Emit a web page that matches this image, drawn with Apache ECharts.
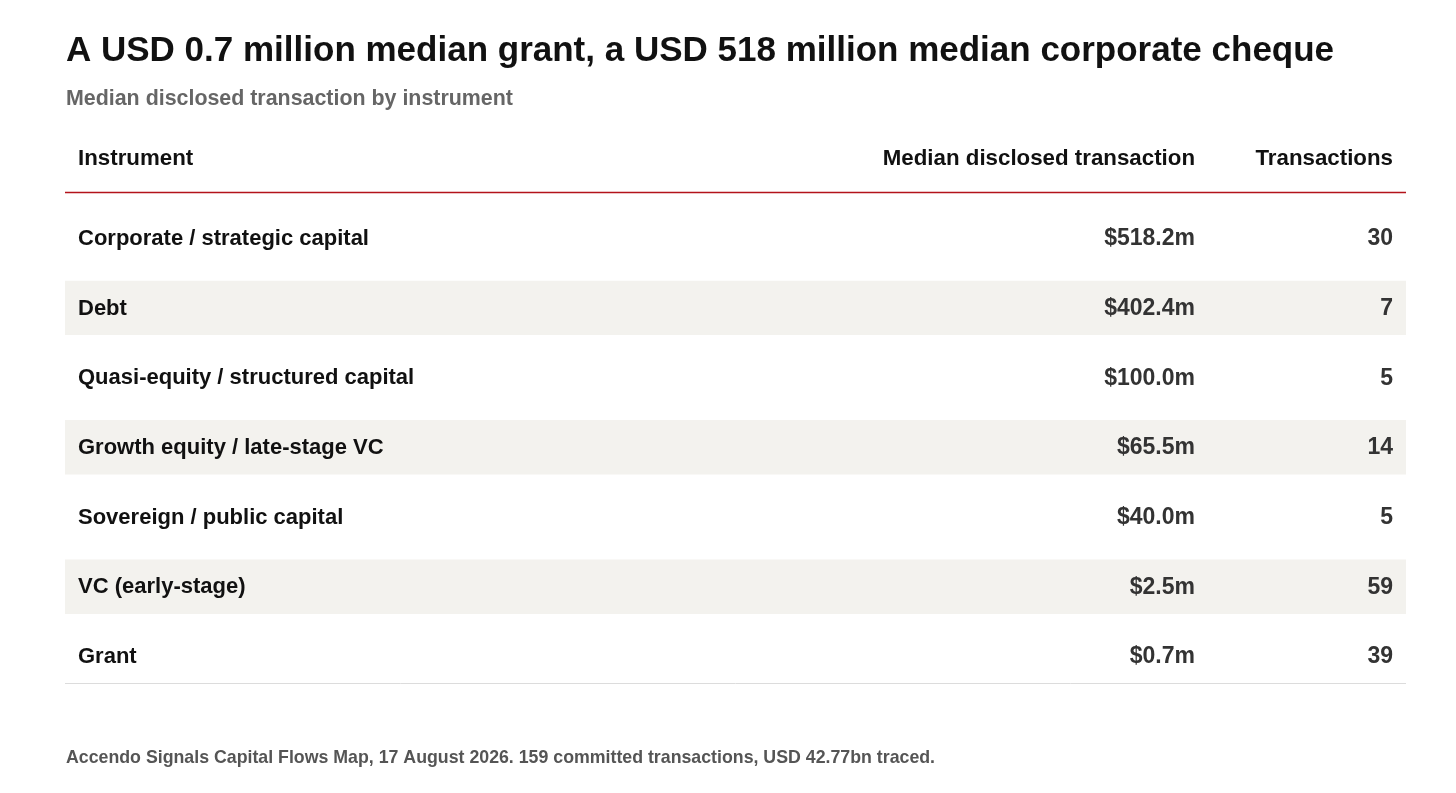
<!DOCTYPE html>
<html>
<head>
<meta charset="utf-8">
<script src="https://cdn.jsdelivr.net/npm/echarts@6/dist/echarts.min.js"></script>
<style>
html, body { margin: 0; padding: 0; background: #fff; }
#main { width: 1456px; height: 793px; }
</style>
</head>
<body>
<div id="main"></div>
<script>
// table data
var instruments = [
    'Corporate / strategic capital',
    'Debt',
    'Quasi-equity / structured capital',
    'Growth equity / late-stage VC',
    'Sovereign / public capital',
    'VC (early-stage)',
    'Grant'
];
var medianValues = [518.2, 402.4, 100.0, 65.5, 40.0, 2.5, 0.7];   // USD m
var transactionCounts = [30, 7, 5, 14, 5, 59, 39];
var columnHeaders = ['Instrument', 'Median disclosed transaction', 'Transactions'];

var FONT = '"Liberation Sans", Arial, sans-serif';

function fmtMedian(v) {
    return '$' + v.toFixed(1) + 'm';
}

// one row of the table per category
function renderRow(params, api) {
    var idx = api.value(0);
    var cs = params.coordSys;
    var y = api.coord([0, idx])[1];
    var band = api.size([0, 1])[1];
    var children = [];
    if (idx % 2 === 1) {
        children.push({
            type: 'rect',
            shape: { x: cs.x, y: y - band * 0.4, width: cs.width, height: band * 0.78 },
            style: { fill: '#f3f2ee' }
        });
    }
    children.push({
        type: 'text',
        style: {
            text: fmtMedian(api.value(1)),
            x: cs.x + cs.width - 211, y: y,
            align: 'right', verticalAlign: 'middle',
            fill: '#333', font: 'bold 23px ' + FONT
        }
    });
    children.push({
        type: 'text',
        style: {
            text: String(api.value(2)),
            x: cs.x + cs.width - 13, y: y,
            align: 'right', verticalAlign: 'middle',
            fill: '#333', font: 'bold 23px ' + FONT
        }
    });
    return { type: 'group', children: children };
}

var chart = echarts.init(document.getElementById('main'));

var option = {
    backgroundColor: '#fff',
    animation: false,
    title: [
        {
            text: 'A USD 0.7 million median grant, a USD 518 million median corporate cheque',
            left: 66, top: 34, padding: 0,
            textStyle: { fontFamily: FONT, fontSize: 35, fontWeight: 'bold', color: '#111' }
        },
        {
            text: 'Median disclosed transaction by instrument',
            left: 66, top: 89, padding: 0,
            textStyle: { fontFamily: FONT, fontSize: 21.4, fontWeight: 'bold', color: '#666' }
        },
        {
            text: 'Accendo Signals Capital Flows Map, 17 August 2026. 159 committed transactions, USD 42.77bn traced.',
            left: 66, top: 749, padding: 0,
            textStyle: { fontFamily: FONT, fontSize: 17.75, fontWeight: 'bold', color: '#555' }
        }
    ],
    graphic: [
        {
            type: 'text', left: 78, top: 148,
            style: { text: columnHeaders[0], fill: '#111', font: 'bold 22.3px ' + FONT }
        },
        {
            type: 'text', right: 1456 - 1195, top: 148,
            style: { text: columnHeaders[1], fill: '#111', font: 'bold 22.3px ' + FONT }
        },
        {
            type: 'text', right: 1456 - 1393, top: 148,
            style: { text: columnHeaders[2], fill: '#111', font: 'bold 22.3px ' + FONT }
        },
        {
            type: 'line',
            shape: { x1: 65, y1: 192.5, x2: 1406, y2: 192.5 },
            style: { stroke: '#b3131b', lineWidth: 1.3 }
        },
        {
            type: 'line',
            shape: { x1: 65, y1: 683.5, x2: 1406, y2: 683.5 },
            style: { stroke: '#dcdcdc', lineWidth: 1 }
        }
    ],
    grid: { left: 65, right: 50, top: 204, bottom: 101 },
    xAxis: { type: 'value', min: 0, max: 1, show: false },
    yAxis: {
        type: 'category',
        inverse: true,
        data: instruments,
        z: 10,
        axisLine: { show: false },
        axisTick: { show: false },
        splitLine: { show: false },
        axisLabel: {
            inside: true,
            margin: 13,
            color: '#111',
            fontFamily: FONT,
            fontSize: 22,
            fontWeight: 'bold'
        }
    },
    series: [
        {
            type: 'custom',
            renderItem: renderRow,
            encode: { y: 0 },
            z: 1,
            data: instruments.map(function (name, i) {
                return [i, medianValues[i], transactionCounts[i]];
            })
        }
    ]
};

chart.setOption(option);
</script>
</body>
</html>
